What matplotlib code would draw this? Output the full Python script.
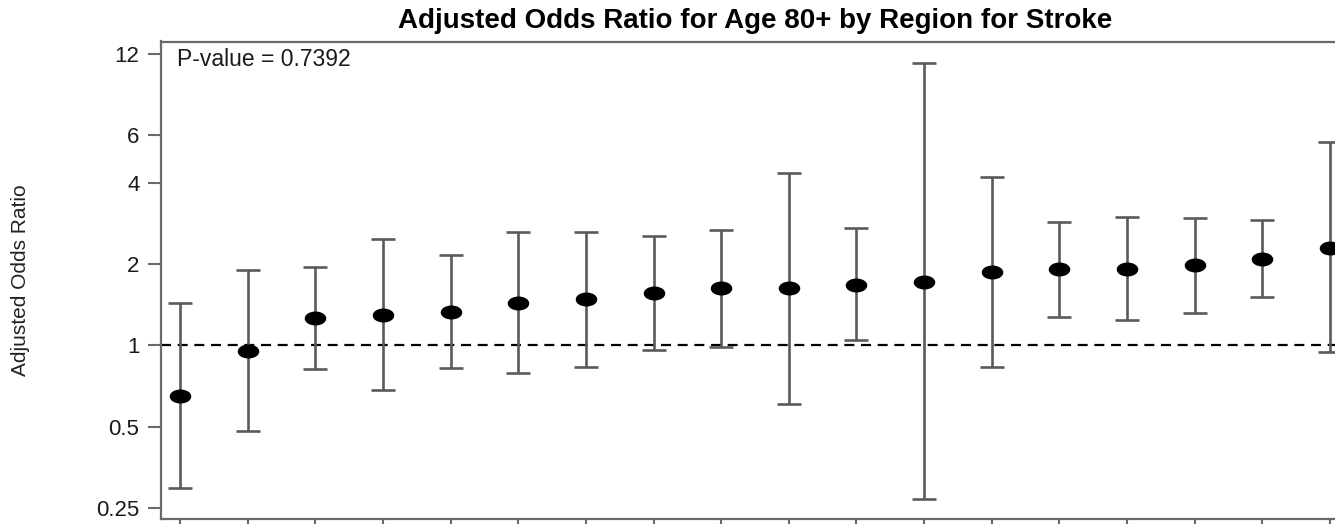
import numpy as np
import matplotlib
matplotlib.use("Agg")
import matplotlib.pyplot as plt
from matplotlib.path import Path
from matplotlib.transforms import Affine2D

plt.rcParams['font.family'] = ['Liberation Sans', 'DejaVu Sans']

# Data
regions = list(range(1, 19))
odds_ratio = [0.651, 0.956, 1.26, 1.296, 1.333, 1.44, 1.48, 1.56, 1.63,
              1.63, 1.68, 1.72, 1.875, 1.92, 1.92, 1.98, 2.09, 2.29]
ci_lower = [0.297, 0.483, 0.818, 0.684, 0.823, 0.79, 0.832, 0.964, 0.984,
            0.607, 1.044, 0.269, 0.834, 1.277, 1.242, 1.315, 1.515, 0.943]
ci_upper = [1.432, 1.90, 1.95, 2.47, 2.17, 2.64, 2.64, 2.54, 2.67,
            4.34, 2.71, 11.08, 4.21, 2.87, 3.00, 2.97, 2.91, 5.65]
y_ticks = [0.25, 0.5, 1, 2, 4, 6, 12]
y_tick_labels = ['0.25', '0.5', '1', '2', '4', '6', '12']
p_value_text = 'P-value = 0.7392'
title = 'Adjusted Odds Ratio for Age 80+ by Region for Stroke'
ylabel = 'Adjusted Odds Ratio'

W, H = 1335, 524
fig = plt.figure(figsize=(W / 100, H / 100), dpi=100)
ax = fig.add_axes([161 / W, 5 / H, (1349 - 161) / W, (519 - 41.5) / H])

x = np.array(regions, dtype=float)
y = np.array(odds_ratio)
lo = np.array(ci_lower)
hi = np.array(ci_upper)

ellipse = Path.unit_circle().transformed(Affine2D().scale(1.6, 1.0))

ax.errorbar(x, y, yerr=[y - lo, hi - y], fmt='none', ecolor='#5a5a5a',
            elinewidth=1.9, capsize=8.5, capthick=1.9, zorder=2)
ax.plot(x, y, linestyle='none', marker=ellipse, markersize=14.5,
        color='black', zorder=3)
ax.axhline(1.0, color='black', linewidth=1.6, dashes=(4.5, 3), zorder=1)

ax.set_yscale('log')
ax.set_ylim(0.2277, 13.34)
ax.set_xlim(1 - 19 / 67.65, 18 + 19 / 67.65)
ax.set_yticks(y_ticks)
ax.set_yticklabels(y_tick_labels)
ax.yaxis.set_minor_locator(matplotlib.ticker.NullLocator())
ax.set_xticks(x)
ax.set_xticklabels([])

for s in ax.spines.values():
    s.set_color('#6a6a6a')
    s.set_linewidth(1.6)

ax.tick_params(axis='y', which='major', length=9.5, width=1.5, color='#6a6a6a',
               labelsize=16, pad=6, labelcolor='#1a1a1a')
ax.tick_params(axis='x', which='major', length=9.5, width=1.5, color='#6a6a6a')

ax.set_title(title, fontsize=20, fontweight='bold', pad=9.5)
ax.set_ylabel(ylabel, fontsize=15, color='#222222')
ax.yaxis.set_label_coords(-(161 - 30) / (1349 - 161), 0.5)

ax.text(177 / W, (H - 59) / H, p_value_text, transform=fig.transFigure,
        fontsize=16.5, va='center', ha='left', color='#1a1a1a')

fig.savefig('out.png', dpi=100)
